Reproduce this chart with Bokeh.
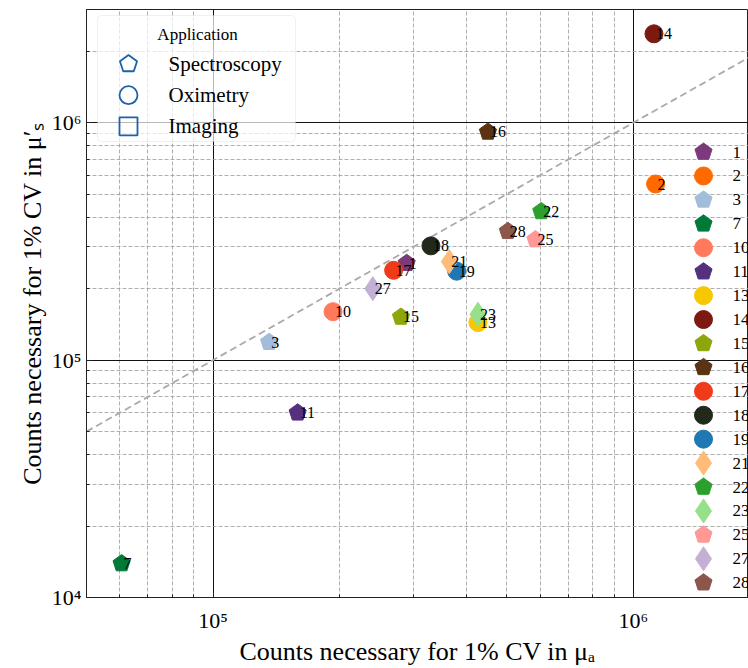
from bokeh.plotting import figure
from bokeh.models import (ColumnDataSource, Range1d, FixedTicker, Label,
                          BoxAnnotation, LinearScale)
from bokeh.core.properties import value
from bokeh.embed import file_html
from bokeh.resources import INLINE

# ---------------- data ----------------
ids = [1, 2, 3, 7, 10, 11, 13, 14, 15, 16, 17, 18, 19, 21, 22, 23, 25, 27, 28]
apps = ["Spectroscopy", "Oximetry", "Spectroscopy", "Spectroscopy", "Oximetry",
        "Spectroscopy", "Oximetry", "Oximetry", "Spectroscopy", "Spectroscopy",
        "Oximetry", "Oximetry", "Oximetry", "Imaging", "Spectroscopy", "Imaging",
        "Spectroscopy", "Imaging", "Spectroscopy"]
mua_counts = [2.89e5, 1.13e6, 1.36e5, 6.06e4, 1.93e5, 1.59e5, 4.27e5, 1.12e6,
              2.80e5, 4.51e5, 2.69e5, 3.30e5, 3.80e5, 3.65e5, 6.04e5, 4.27e5,
              5.85e5, 2.40e5, 5.03e5]
mus_counts = [2.56e5, 5.52e5, 1.19e5, 1.39e4, 1.60e5, 6.0e4, 1.44e5, 2.37e6,
              1.52e5, 9.15e5, 2.39e5, 3.03e5, 2.37e5, 2.60e5, 4.23e5, 1.56e5,
              3.22e5, 2.00e5, 3.49e5]
colors = ["#7b3b7b", "#ff6a00", "#a3bcd9", "#007a37", "#ff7a5c", "#54307f",
          "#f7c700", "#7a1a10", "#8da70a", "#5a3412", "#f03b1a", "#22291a",
          "#1f77b4", "#ffbb78", "#2ca02c", "#98df8a", "#ff9896", "#c5b0d5",
          "#8c564b"]
app_names = ["Spectroscopy", "Oximetry", "Imaging"]

diag = [5e4, 2e6]
x_lim = [5e4, 1.88e6]
y_lim = [1e4, 3e6]
x_major = [100000, 1000000]
x_minor = [60000, 70000, 80000, 90000, 200000, 300000, 400000, 500000,
           600000, 700000, 800000, 900000]
y_major = [10000, 100000, 1000000]
y_minor = [20000, 30000, 40000, 50000, 60000, 70000, 80000, 90000,
           200000, 300000, 400000, 500000, 600000, 700000, 800000, 900000,
           2000000, 3000000]
x_tick_labels = {100000: "10⁵", 1000000: "10⁶"}
y_tick_labels = {10000: "10⁴", 100000: "10⁵", 1000000: "10⁶"}
x_title = "Counts necessary for 1% CV in μₐ"
y_title = "Counts necessary for 1% CV in μ′ₛ"
legend_title = "Application"

# ---------------- layout / style ----------------
FONT = "Liberation Serif"
BLUE = "#1f60ab"
W, H = 748, 668
BL, BR, BT, BB = 86, 0, 9, 65
FW, FH = W - BL - BR, H - BT - BB

def fx(px):   # page px -> frame px (x)
    return px - BL

def fy(py):   # page px -> frame px (y, upward)
    return BT + FH - py

p = figure(width=W, height=H, x_axis_type="log", y_axis_type="log",
           x_range=Range1d(*x_lim), y_range=Range1d(*y_lim),
           output_backend="svg", toolbar_location=None,
           min_border_left=BL, min_border_right=BR, min_border_top=BT,
           min_border_bottom=BB)
p.extra_x_ranges = {"px": Range1d(0, FW)}
p.extra_y_ranges = {"px": Range1d(0, FH)}
p.extra_x_scales = {"px": LinearScale()}
p.extra_y_scales = {"px": LinearScale()}
p.background_fill_color = "white"
p.border_fill_color = "white"
p.outline_line_color = "#222222"
p.outline_line_width = 1

p.xaxis.ticker = FixedTicker(ticks=x_major, minor_ticks=x_minor)
p.yaxis.ticker = FixedTicker(ticks=y_major, minor_ticks=y_minor)
p.xaxis.major_label_overrides = x_tick_labels
p.yaxis.major_label_overrides = y_tick_labels

for ax in (p.xaxis, p.yaxis):
    ax.major_label_text_font = FONT
    ax.major_label_text_font_size = "22px"
    ax.major_label_text_color = "black"
    ax.axis_label_text_font = FONT
    ax.axis_label_text_font_size = "26px"
    ax.axis_label_text_font_style = "normal"
    ax.axis_label_text_color = "black"
    ax.axis_line_color = "#222222"
    ax.major_tick_in = 6
    ax.major_tick_out = 0
    ax.minor_tick_in = 3
    ax.minor_tick_out = 0
    ax.major_tick_line_color = "#222222"
    ax.minor_tick_line_color = "#222222"
p.xaxis.major_label_standoff = 10
p.xaxis.axis_label_standoff = 1
p.yaxis.major_label_standoff = 5
p.yaxis.axis_label_standoff = 2
p.xaxis.axis_label = x_title
p.yaxis.axis_label = y_title

for g in (p.xgrid, p.ygrid):
    g.grid_line_color = "#111111"
    g.grid_line_width = 1
    g.minor_grid_line_color = "#9a9a9a"
    g.minor_grid_line_width = 0.8
    g.minor_grid_line_dash = "4 2"

# y = x reference line
p.line(x=diag, y=diag, line_color="#aaaaaa", line_width=1.8, line_dash="7 4")

# ---------------- data points ----------------
groups = {a: [k for k, b in enumerate(apps) if b == a] for a in app_names}

# number legend geometry (page px)
NUM_MX, NUM_LX, NUM_TOP, NUM_STEP = 703, 732, 153, 24.17

def make_src(idx):
    return ColumnDataSource(dict(
        x=[mua_counts[k] for k in idx],
        y=[mus_counts[k] for k in idx],
        c=[colors[k] for k in idx],
        lx=[fx(NUM_MX) for k in idx],
        ly=[fy(NUM_TOP + k * NUM_STEP) for k in idx]))

def draw_marker(app, src, xf, yf, fill, line, lw=1, **kw):
    if app == "Spectroscopy":
        return p.ngon(x=xf, y=yf, radius=9, radius_units="screen", n=5,
                      fill_color=fill, line_color=line, line_width=lw,
                      source=src, **kw)
    marker = "circle" if app == "Oximetry" else "diamond"
    size = 18 if app == "Oximetry" else 24
    return p.scatter(x=xf, y=yf, marker=marker, size=size, fill_color=fill,
                     line_color=line, line_width=lw, source=src, **kw)

srcs = {a: make_src(groups[a]) for a in app_names}
for a in app_names:
    draw_marker(a, srcs[a], "x", "y", "c", "c")

src_all = ColumnDataSource(dict(
    x=mua_counts, y=mus_counts, lab=[str(i) for i in ids],
    lx=[fx(NUM_LX) for _ in ids],
    ly=[fy(NUM_TOP + k * NUM_STEP) for k in range(len(ids))]))
p.text(x="x", y="y", text="lab", source=src_all, text_font=value(FONT),
       text_font_size="16px", text_baseline="alphabetic", text_align="left",
       x_offset=2, text_color="black")

# ---------------- number legend (right, no frame) ----------------
for a in app_names:
    draw_marker(a, srcs[a], "lx", "ly", "c", "c",
                x_range_name="px", y_range_name="px", level="overlay")
p.text(x="lx", y="ly", text="lab", source=src_all, text_font=value(FONT),
       text_font_size="17px", text_baseline="middle", text_align="left",
       text_color="black", x_range_name="px", y_range_name="px",
       level="overlay")

# ---------------- application legend (top-left) ----------------
APP_MX, APP_LX, APP_TOP, APP_STEP = 128, 168, 64, 31.5
p.add_layout(BoxAnnotation(left=fx(97), right=fx(295), top=fy(21),
                           bottom=fy(147), left_units="screen",
                           right_units="screen", top_units="screen",
                           bottom_units="screen", fill_color="white",
                           fill_alpha=0.7, line_color="#cccccc",
                           line_width=1, border_radius=4))
app_src = ColumnDataSource(dict(
    lx=[fx(APP_MX)] * 3,
    ly=[fy(APP_TOP + k * APP_STEP) for k in range(3)],
    tx=[fx(APP_LX)] * 3,
    lab=app_names))
for k, a in enumerate(app_names):
    one = ColumnDataSource(dict(lx=[app_src.data["lx"][k]],
                                ly=[app_src.data["ly"][k]]))
    if a == "Imaging":
        p.scatter(x="lx", y="ly", marker="square", size=18, fill_alpha=0,
                  line_color=BLUE, line_width=1.8, source=one,
                  x_range_name="px", y_range_name="px", level="overlay")
    elif a == "Oximetry":
        p.scatter(x="lx", y="ly", marker="circle", size=18, fill_alpha=0,
                  line_color=BLUE, line_width=1.8, source=one,
                  x_range_name="px", y_range_name="px", level="overlay")
    else:
        p.ngon(x="lx", y="ly", radius=9, radius_units="screen", n=5,
               fill_alpha=0, line_color=BLUE, line_width=1.8, source=one,
               x_range_name="px", y_range_name="px", level="overlay")
p.text(x="tx", y="ly", text="lab", source=app_src, text_font=value(FONT),
       text_font_size="21px", text_baseline="middle", text_align="left",
       text_color="black", x_range_name="px", y_range_name="px",
       level="overlay")
p.add_layout(Label(x=fx(197), y=fy(40), x_units="screen", y_units="screen",
                   text=legend_title, text_align="center",
                   text_baseline="middle", text_font=FONT,
                   text_font_size="17px", text_color="black"))

open("out.html", "w").write(file_html(p, INLINE))
